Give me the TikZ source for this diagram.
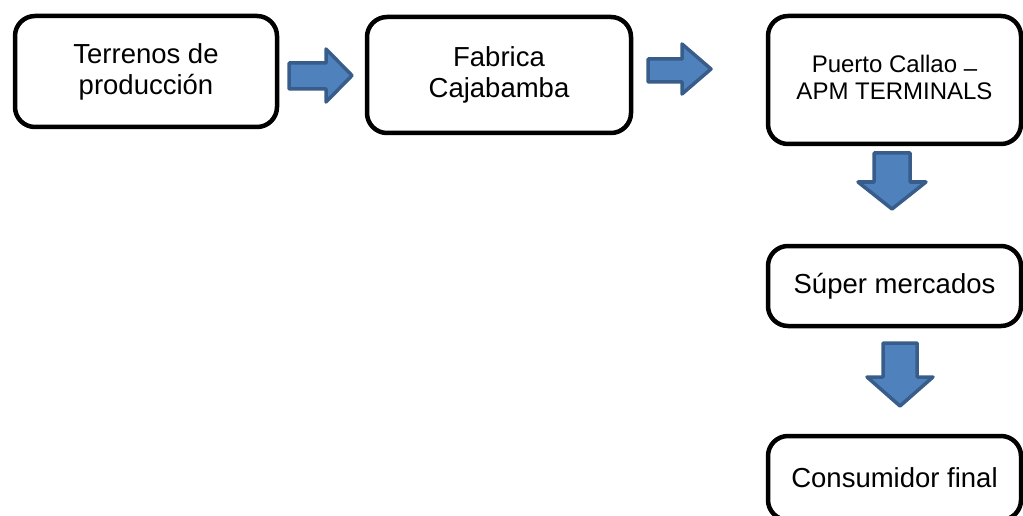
\documentclass[tikz,border=0pt]{standalone}
\usepackage{fontspec}
\setmainfont{Liberation Sans}
\definecolor{arrowfill}{HTML}{4F81BD}
\definecolor{arrowline}{HTML}{385D8A}
\tikzset{
  box/.style={draw=black, line width=4.5pt, rounded corners=20pt, align=center,
    inner sep=0pt, font=\fontsize{27.5}{31}\selectfont},
  blockarrow/.style={fill=arrowfill, draw=arrowline, line width=3.5pt, line join=round}
}
\begin{document}
\begin{tikzpicture}[x=1pt,y=-1pt]
\useasboundingbox (0,0) rectangle (1023,516);
\clip (0,0) rectangle (1023,516);
\node[box, minimum width=262pt, minimum height=111pt] (terrenos) at (146,71.5) {Terrenos de\\producción};
\node[box, minimum width=264pt, minimum height=116pt] (fabrica) at (499,75) {Fabrica\\Cajabamba};
\node[box, minimum width=253pt, minimum height=128pt, text depth=6pt, font=\fontsize{24}{27}\selectfont] (puerto) at (894.5,80) {Puerto Callao \raisebox{-4pt}{–}\\APM TERMINALS};
\node[box, minimum width=253pt, minimum height=80pt] (super) at (894.5,286) {Súper mercados};
\node[box, minimum width=253pt, minimum height=84pt] (consumidor) at (894.5,478) {Consumidor final};
% block arrows
\draw[blockarrow] (289,63) -- (326,63) -- (326,49) -- (352,75.5) -- (326,102) -- (326,89) -- (289,89) -- cycle;
\draw[blockarrow] (648,59) -- (682,59) -- (682,44) -- (711,69) -- (682,94) -- (682,82) -- (648,82) -- cycle;
\draw[blockarrow] (874,153) -- (910,153) -- (910,182) -- (926,182) -- (892,209) -- (858,182) -- (874,182) -- cycle;
\draw[blockarrow] (883,343) -- (917,343) -- (917,377) -- (933,377) -- (900,406) -- (867,377) -- (883,377) -- cycle;
\end{tikzpicture}
\end{document}
